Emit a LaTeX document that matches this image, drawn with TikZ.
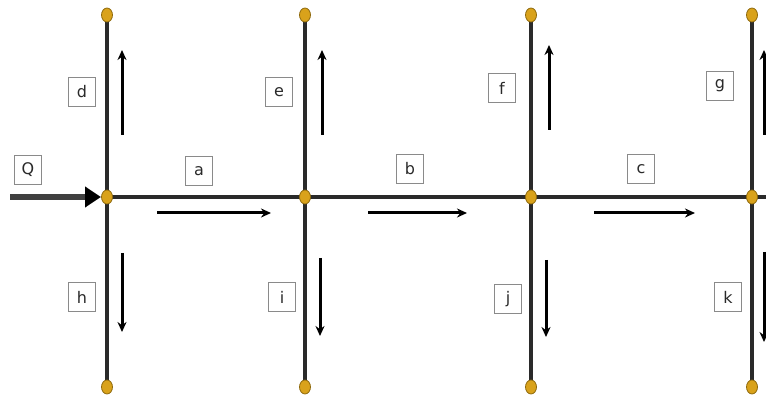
\documentclass[tikz,border=0pt]{standalone}
\usepackage{fontspec}
\setmainfont{DejaVu Sans}
\usetikzlibrary{arrows.meta,shapes.geometric}
\definecolor{dotfill}{HTML}{D9A21B}
\definecolor{dotline}{HTML}{8F6A0E}
\definecolor{boxline}{HTML}{8A8A8A}
\definecolor{ink}{HTML}{2A2A2A}
\begin{document}
\begin{tikzpicture}[x=1pt,y=-1pt,
  pipe/.style={line width=3.2pt,ink},
  joint/.style={ellipse,draw=dotline,fill=dotfill,line width=0.8pt,minimum width=11pt,minimum height=14pt,inner sep=0pt},
  tag/.style={draw=boxline,line width=1.2pt,fill=white,minimum width=27pt,minimum height=29pt,inner sep=0pt,text=ink,font=\fontsize{16}{16}\selectfont},
  flow/.style={line width=3pt,black,-{Stealth[length=10pt,width=9pt]}},
  inflow/.style={line width=5.5pt,black!75,-{Triangle[length=16pt,width=20pt,fill=black,color=black]}}]
\useasboundingbox (0,0) rectangle (766,406);
% corners of the network
\foreach \n/\x in {1/107,2/305,3/531,4/752}{
  \coordinate (mc\n) at (\x,197);
  \coordinate (tc\n) at (\x,15);
  \coordinate (bc\n) at (\x,387);
}
\coordinate (mend) at (766,197);
\coordinate (qs) at (10,197);
% pipes
\draw[pipe] (mc1) -- (mend);
\foreach \n in {1,...,4}{ \draw[pipe] (tc\n) -- (bc\n); }
% supply
\draw[inflow] (qs) -- (101,197);
% junctions and branch ends
\foreach \n in {1,...,4}{
  \node[joint] (m\n) at (mc\n) {};
  \node[joint] (t\n) at (tc\n) {};
  \node[joint] (b\n) at (bc\n) {};
}
% flow directions in the main
\coordinate (a1) at (157,213); \coordinate (a2) at (271,213);
\coordinate (b1) at (368,213); \coordinate (b2) at (467,213);
\coordinate (c1) at (594,213); \coordinate (c2) at (695,213);
\draw[flow] (a1) -- (a2);
\draw[flow] (b1) -- (b2);
\draw[flow] (c1) -- (c2);
% flow directions in the branches
\coordinate (u1s) at (122,135); \coordinate (u1e) at (122,50);
\coordinate (u2s) at (322,135); \coordinate (u2e) at (322,50);
\coordinate (u3s) at (549,130); \coordinate (u3e) at (549,45);
\coordinate (u4s) at (764,135); \coordinate (u4e) at (764,50);
\coordinate (d1s) at (122,253); \coordinate (d1e) at (122,332);
\coordinate (d2s) at (320,258); \coordinate (d2e) at (320,336);
\coordinate (d3s) at (546,260); \coordinate (d3e) at (546,337);
\coordinate (d4s) at (764,252); \coordinate (d4e) at (764,342);
\foreach \n in {1,...,4}{
  \draw[flow] (u\n s) -- (u\n e);
  \draw[flow] (d\n s) -- (d\n e);
}
% labels
\node[tag] (lq) at (28,170) {Q};
\node[tag] (la) at (199,171) {a};
\node[tag] (lb) at (410,169) {b};
\node[tag] (lc) at (641,169) {c};
\node[tag] (ld) at (82,92) {d};
\node[tag] (le) at (279,92) {e};
\node[tag] (lf) at (502,88) {f};
\node[tag] (lg) at (720,86) {g};
\node[tag] (lh) at (82,297) {h};
\node[tag] (li) at (282,297) {i};
\node[tag] (lj) at (508,299) {j};
\node[tag] (lk) at (728,297) {k};
\end{tikzpicture}
\end{document}
